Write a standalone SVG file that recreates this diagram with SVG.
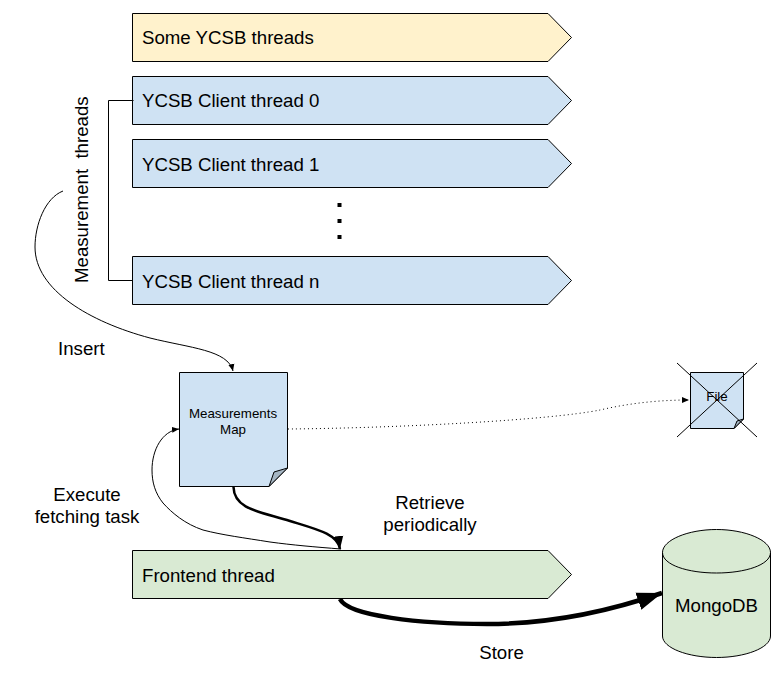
<svg xmlns="http://www.w3.org/2000/svg" width="782" height="678" viewBox="0 0 782 678">
<style>
text{font-family:"Liberation Sans",Arial,sans-serif;fill:#000}
.t{font-size:18.67px}
.m{font-size:13.33px}
.s{stroke:#000;stroke-width:1;stroke-linejoin:miter}
.b{fill:#cfe2f3}
.y{fill:#fff2cc}
.g{fill:#d9ead3}
.c{fill:none;stroke:#000}
</style>
<defs>
<marker id="a" markerUnits="userSpaceOnUse" markerWidth="10" markerHeight="10" refX="7" refY="4" orient="auto"><path d="M0 1L7 4L0 7Z"/></marker>
<marker id="am" markerUnits="userSpaceOnUse" markerWidth="16" markerHeight="14" refX="13" refY="6" orient="auto"><path d="M0 1L13 6L0 11Z"/></marker>
<marker id="al" markerUnits="userSpaceOnUse" markerWidth="30" markerHeight="24" refX="25" refY="10" orient="auto"><path d="M0 1L25 10L0 19Z"/></marker>
</defs>
<rect width="782" height="678" fill="#fff"/>
<g id="some-ycsb"><path class="s y" d="M132.500 13.500H548L571.500 37.500L548 61.500H132.500Z"/><text class="t" x="142" y="44">Some YCSB threads</text></g>
<g id="client-0"><path class="s b" d="M132.500 76.500H548L571.500 100.500L548 124.500H132.500Z"/><text class="t" x="142" y="107">YCSB Client thread 0</text></g>
<g id="client-1"><path class="s b" d="M132.500 139.500H548L571.500 163.500L548 187.500H132.500Z"/><text class="t" x="142" y="170.500">YCSB Client thread 1</text></g>
<g id="client-n"><path class="s b" d="M132.500 256.500H548L571.500 280.500L548 304.500H132.500Z"/><text class="t" x="142" y="287.500">YCSB Client thread n</text></g>
<g id="dots"><rect x="337.500" y="203" width="4" height="4"/><rect x="337.500" y="219" width="4" height="4"/><rect x="337.500" y="235" width="4" height="4"/></g>
<g id="measurement-label"><text class="t" transform="translate(88 283) rotate(-90)" xml:space="preserve">Measurement  threads</text></g>
<g id="measurements-map"><path class="s b" d="M179.500 372.500H287.500V468L269 486.500H179.500Z"/><path class="s" fill="#a5b5c2" d="M269 486.500L274 472L287.500 468Z"/><text class="m" x="233" y="418" text-anchor="middle">Measurements</text><text class="m" x="233" y="433.500" text-anchor="middle">Map</text></g>
<g id="file"><path class="s b" d="M690.500 372.500H743.500V419L734 428.500H690.500Z"/><path class="s" fill="#a5b5c2" d="M734 428.500L737 421L743.500 419Z"/><text class="m" x="717" y="401" text-anchor="middle">File</text></g>
<g id="frontend"><path class="s g" d="M132.500 550.500H548L571.500 574.500L548 598.500H132.500Z"/><text class="t" x="142" y="581.500">Frontend thread</text></g>
<g id="mongodb"><path class="s g" d="M662.500 552.500C662.500 540 688 529.500 716.500 529.500C745 529.500 770.500 540 770.500 552.500V636C770.500 648 745 657.500 716.500 657.500C688 657.500 662.500 648 662.500 636Z"/><path class="c" d="M662.500 552.500C662.500 565 688 573 716.500 573C745 573 770.500 565 770.500 552.500"/><text class="t" x="716.500" y="611.500" text-anchor="middle">MongoDB</text></g>
<g id="connectors">
<path class="c" d="M133.500 100.500H108.500V280.500H132.500"/>
<path class="c" d="M63 191C45 198 35 225 35 247C35 290 90 322 150 338C190 348 228 350 233 371" marker-end="url(#a)"/>
<path class="c" stroke-dasharray="1 3" d="M288 429C400 428 550 420 600 410C630 403 660 400 689 400" marker-end="url(#a)"/>
<path class="c" d="M341 549C315 547 292 545 270 542C245 538 222 535 203 530C185 524 172 513 163 503C155 493 152 482 152 470C152 450 162 431 179 429" marker-end="url(#a)"/>
<path class="c" stroke-width="2.500" d="M233.500 487C234 510 262 512 290 521C316 529 338 534 340 549" marker-end="url(#am)"/>
<path class="c" stroke-width="4.500" d="M340 599C348 616 420 624 487 624C550 624 610 611 662 593" marker-end="url(#al)"/>
<path class="c" stroke="#333" d="M677 363L757 437M757 363L677 437"/>
</g>
<g id="labels">
<text class="t" x="58" y="354.500">Insert</text>
<text class="t" x="87" y="501" text-anchor="middle">Execute</text>
<text class="t" x="87" y="522.500" text-anchor="middle">fetching task</text>
<text class="t" x="430" y="509" text-anchor="middle">Retrieve</text>
<text class="t" x="430" y="530.500" text-anchor="middle">periodically</text>
<text class="t" x="501.500" y="659" text-anchor="middle">Store</text>
</g>
</svg>
